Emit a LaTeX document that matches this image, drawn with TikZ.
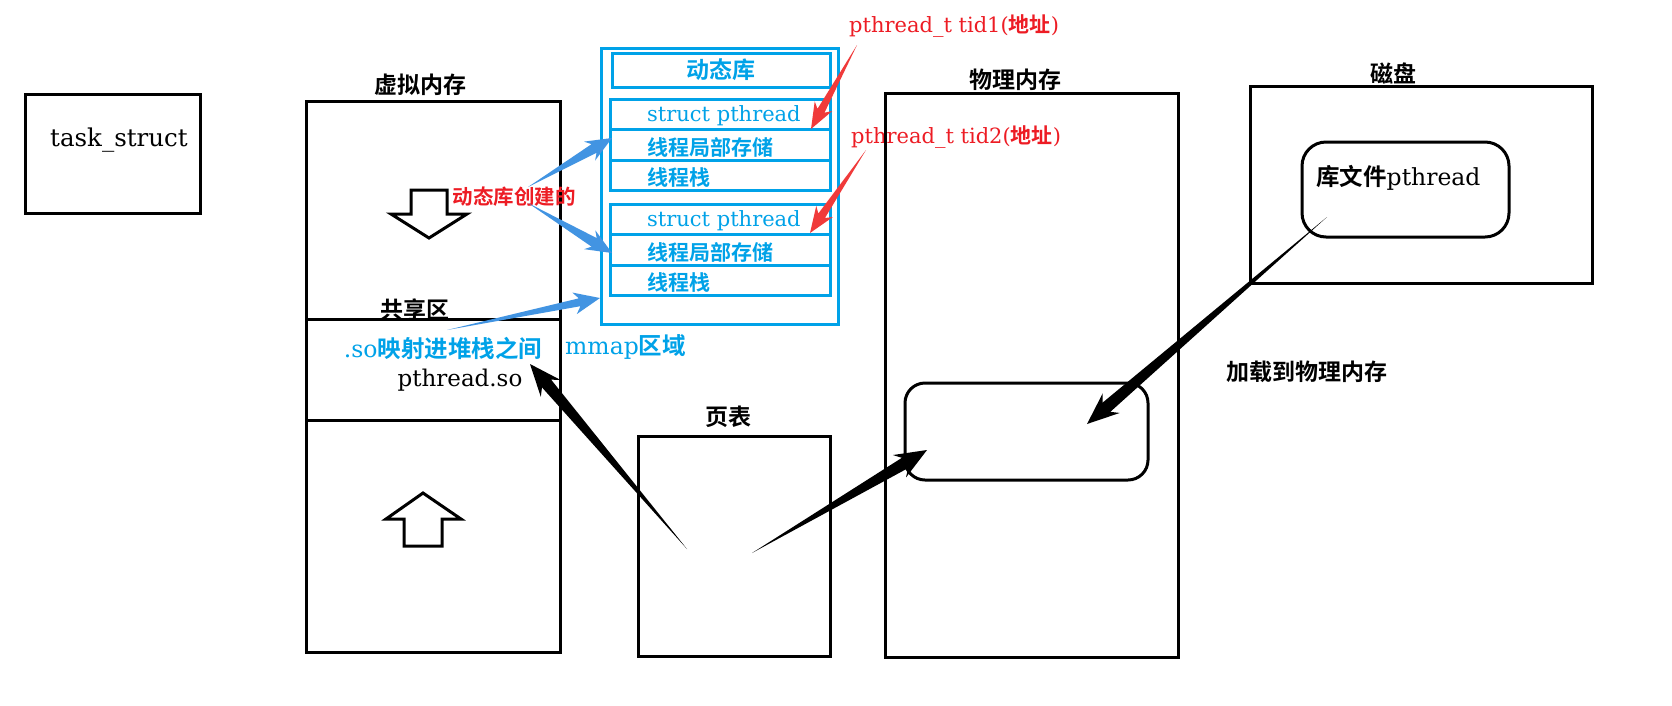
\documentclass[tikz,border=0pt]{standalone}
\usepackage{fontspec}
\setmainfont{DejaVu Serif}
\newfontfamily\cjk{Noto Sans CJK SC Bold}
\usetikzlibrary{calc,fit}
\definecolor{lblue}{RGB}{0,162,232}
\definecolor{ablue}{RGB}{66,148,226}
\definecolor{tred}{RGB}{237,28,36}
\definecolor{ared}{RGB}{240,58,58}
\newcommand\tarrow[6]{%
  \coordinate (tjoin) at ($(#2)!#4*0.8!(#1)$);
  \coordinate (tbarb) at ($(#2)!#4!(#1)$);
  \fill[#6] (#1) -- ($(tjoin)!#3!90:(#2)$) -- ($(tbarb)!#5!90:(#2)$) -- (#2)
     -- ($(tbarb)!#5!-90:(#2)$) -- ($(tjoin)!#3!-90:(#2)$) -- cycle;}
\begin{document}
\begin{tikzpicture}[x=1pt,y=-1pt,
  box/.style={draw=black,line width=3pt,inner sep=0pt},
  bbox/.style={draw=lblue,line width=3pt,inner sep=0pt},
  hd/.style={inner sep=0pt,font=\cjk\fontsize{23}{27}\selectfont},
  lt/.style={inner sep=0pt,font=\fontsize{23}{27}\selectfont},
  bt/.style={inner sep=0pt,text=lblue,font=\fontsize{21}{25}\selectfont},
  bc/.style={inner sep=0pt,text=lblue,font=\cjk\fontsize{21}{25}\selectfont},
  rt/.style={inner sep=0pt,text=tred,font=\fontsize{21}{25}\selectfont},
  hollow/.style={draw=black,line width=3pt,fill=white,line join=miter}]
\useasboundingbox (0,0) rectangle (1672,705);
\fill[white] (0,0) rectangle (1672,705);

% task_struct
\node[box,fit={(25,94)(200,213)}] (ts) {};
\node[inner sep=0pt,anchor=base west,font=\fontsize{24.5}{28}\selectfont] (tstext) at (50,146) {task\_struct};

% virtual memory
\node[hd] (vmlab) at (420,85) {虚拟内存};
\node[box,fit={(306,101)(560,319)}] (vm1) {};
\node[box,fit={(306,319)(560,420)}] (vm2) {};
\node[box,fit={(306,420)(560,652)}] (vm3) {};
\draw[hollow] (411,190) -- (447,190) -- (447,214) -- (467,214) -- (429,238) -- (391,214) -- (411,214) -- cycle;
\draw[hollow] (423,493) -- (461,519) -- (442,519) -- (442,546) -- (404,546) -- (404,519) -- (386,519) -- cycle;
\node[hd] (share) at (415,310) {共享区};
\node[inner sep=0pt,text=lblue,font=\fontsize{23.5}{27}\selectfont] (somap) at (443,348) {.so{\cjk 映射进堆栈之间}};
\node[lt] (pso) at (460,380) {pthread.so};
\node[inner sep=0pt,text=tred,font=\cjk\fontsize{20.5}{24}\selectfont] (created) at (514,197) {动态库创建的};

% dynamic library area
\node[bbox,fit={(601,48)(838,324)}] (dl) {};
\node[bbox,fit={(612,53)(830,87)}] (dlhead) {};
\node[inner sep=0pt,text=lblue,font=\cjk\fontsize{23}{27}\selectfont] at (dlhead.center) {动态库};
\node[bbox,fit={(610,99)(830,129)}] (a1) {};
\node[bbox,fit={(610,129)(830,160)}] (a2) {};
\node[bbox,fit={(610,160)(830,190)}] (a3) {};
\node[bbox,fit={(610,204)(830,234)}] (b1) {};
\node[bbox,fit={(610,234)(830,265)}] (b2) {};
\node[bbox,fit={(610,265)(830,295)}] (b3) {};
\node[bt,anchor=west] (a1t) at (647,116) {struct pthread};
\node[bc,anchor=west] (a2t) at (647,147) {线程局部存储};
\node[bc,anchor=west] (a3t) at (647,177) {线程栈};
\node[bt,anchor=west] (b1t) at (647,221) {struct pthread};
\node[bc,anchor=west] (b2t) at (647,252) {线程局部存储};
\node[bc,anchor=west] (b3t) at (647,282) {线程栈};
\node[inner sep=0pt,text=lblue,font=\fontsize{23.5}{27}\selectfont,anchor=west] (mmap) at (565,347) {mmap{\cjk 区域}};

% red labels
\node[rt,anchor=west] (tid1) at (849,26) {pthread\_t tid1({\cjk 地址})};
\node[rt,anchor=west] (tid2) at (851,137) {pthread\_t tid2({\cjk 地址})};

% physical memory
\node[hd] (pmlab) at (1015,80) {物理内存};
\node[box,fit={(885,93)(1178,657)}] (pm) {};
\node[box,rounded corners=20pt,fit={(905,383)(1148,480)}] (pmlib) {};

% page table
\node[hd] (ptlab) at (728,417) {页表};
\node[box,fit={(638,436)(830,656)}] (pt) {};

% disk
\node[hd] (dklab) at (1393,73) {磁盘};
\node[box,fit={(1250,86)(1592,283)}] (dk) {};
\node[box,rounded corners=24pt,fit={(1302,142)(1509,237)}] (dklib) {};
\node[inner sep=0pt,anchor=west,font=\fontsize{23.5}{27}\selectfont] (dkt) at (1316,178) {{\cjk 库文件}pthread};
\node[hd,anchor=west] (load) at (1226,372) {加载到物理内存};

% arrow end points
\coordinate (s1) at (687,549); \coordinate (e1) at (530,364);
\coordinate (s2) at (752,553); \coordinate (e2) at (927,450);
\coordinate (s3) at (1327,217); \coordinate (e3) at (1087,424);
\coordinate (s4) at (528,187); \coordinate (e4) at (612,138);
\coordinate (s5) at (528,203); \coordinate (e5) at (612,253);
\coordinate (s6) at (447,330); \coordinate (e6) at (600,298);
\coordinate (s7) at (857,45);  \coordinate (e7) at (811,129);
\coordinate (s8) at (866,150); \coordinate (e8) at (810,233);

\tarrow{s1}{e1}{6pt}{32pt}{13pt}{black}
\tarrow{s2}{e2}{6pt}{32pt}{13pt}{black}
\tarrow{s3}{e3}{6pt}{32pt}{13pt}{black}
\tarrow{s4}{e4}{5pt}{26pt}{11pt}{ablue}
\tarrow{s5}{e5}{5pt}{26pt}{11pt}{ablue}
\tarrow{s6}{e6}{4pt}{26pt}{11pt}{ablue}
\tarrow{s7}{e7}{4pt}{26pt}{10pt}{ared}
\tarrow{s8}{e8}{4pt}{26pt}{10pt}{ared}
\end{tikzpicture}
\end{document}
